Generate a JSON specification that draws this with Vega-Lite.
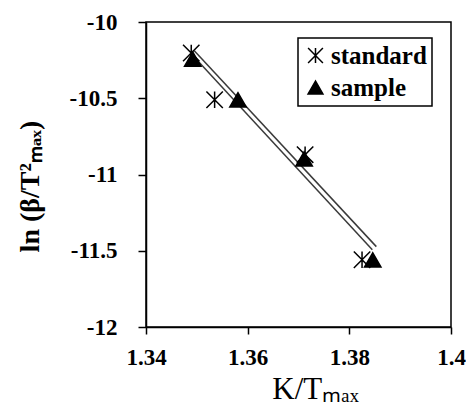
{
  "$schema": "https://vega.github.io/schema/vega-lite/v6.json",
  "width": 305,
  "height": 305,
  "autosize": {"type": "none"},
  "padding": {"left": 146, "top": 22, "right": 15, "bottom": 91},
  "background": "white",
  "config": {
    "view": {"stroke": "black", "strokeWidth": 1.5},
    "font": "Liberation Serif",
    "legend": {
      "strokeWidth": 1.5,
      "orient": "none",
      "legendX": 152,
      "legendY": 16,
      "strokeColor": "black",
      "fillColor": "white",
      "padding": 5,
      "labelFont": "Liberation Serif",
      "labelFontWeight": "bold",
      "labelFontSize": 25,
      "labelColor": "black",
      "labelOffset": 3,
      "rowPadding": 6,
      "symbolSize": 220,
      "symbolStrokeWidth": 1.5
    }
  },
  "datasets": {
    "points": [
      {"series": "standard", "x": 1.3489, "y": -10.203},
      {"series": "standard", "x": 1.3535, "y": -10.51},
      {"series": "standard", "x": 1.3713, "y": -10.87},
      {"series": "standard", "x": 1.3825, "y": -11.559},
      {"series": "sample", "x": 1.3492, "y": -10.243},
      {"series": "sample", "x": 1.3581, "y": -10.51},
      {"series": "sample", "x": 1.3711, "y": -10.898},
      {"series": "sample", "x": 1.3846, "y": -11.56}
    ],
    "fits": [
      {"fit": "sample", "x": 1.3495, "y": -10.188},
      {"fit": "sample", "x": 1.38531, "y": -11.473},
      {"fit": "standard", "x": 1.34872, "y": -10.201},
      {"fit": "standard", "x": 1.38452, "y": -11.493}
    ]
  },
  "encoding": {
    "x": {
      "field": "x",
      "type": "quantitative",
      "scale": {"domain": [1.34, 1.4], "nice": false, "zero": false},
      "axis": {
        "title": "K/Tₘₐₓ",
        "values": [1.34, 1.36, 1.38, 1.4],
        "labelExpr": "'' + datum.value",
        "grid": false,
        "domainColor": "black",
        "domainWidth": 1.5,
        "tickColor": "black",
        "tickWidth": 1.5,
        "tickSize": 7,
        "labelFont": "Liberation Serif",
        "labelFontWeight": "bold",
        "labelFontSize": 23,
        "labelColor": "black",
        "labelPadding": 12,
        "labelFlush": false,
        "labelOverlap": false,
        "titleFont": "Liberation Serif",
        "titleFontSize": 31,
        "titleFontWeight": "normal",
        "titleColor": "black",
        "titleX": 169,
        "titleY": 47
      }
    },
    "y": {
      "field": "y",
      "type": "quantitative",
      "scale": {"domain": [-12, -10], "nice": false, "zero": false},
      "axis": {
        "title": "ln (β/T²ₘₐₓ)",
        "values": [-12, -11.5, -11, -10.5, -10],
        "labelExpr": "'' + datum.value",
        "grid": false,
        "domainColor": "black",
        "domainWidth": 1.5,
        "tickColor": "black",
        "tickWidth": 1.5,
        "tickSize": 8,
        "labelFont": "Liberation Serif",
        "labelFontWeight": "bold",
        "labelFontSize": 23,
        "labelColor": "black",
        "labelPadding": 21,
        "labelFlush": false,
        "labelOverlap": false,
        "titleFont": "Liberation Serif",
        "titleFontSize": 28,
        "titleFontWeight": "bold",
        "titleColor": "black",
        "titleX": -116,
        "titleY": 164,
        "titleBaseline": "middle"
      }
    }
  },
  "layer": [
    {
      "data": {"name": "fits"},
      "mark": {"type": "line", "color": "#3a3a3a", "strokeWidth": 1.5},
      "encoding": {"detail": {"field": "fit", "type": "nominal"}}
    },
    {
      "data": {"name": "points"},
      "mark": {"type": "point", "filled": true, "strokeWidth": 1.5, "opacity": 1, "size": 270},
      "encoding": {
        "shape": {
          "field": "series",
          "type": "nominal",
          "scale": {
            "domain": ["standard", "sample"],
            "range": ["M-1,-1L1,1M-1,1L1,-1M0,-1L0,1", "triangle-up"]
          },
          "legend": {"title": null}
        },
        "fill": {
          "field": "series",
          "type": "nominal",
          "scale": {"domain": ["standard", "sample"], "range": ["black", "black"]},
          "legend": {"title": null}
        },
        "stroke": {
          "field": "series",
          "type": "nominal",
          "scale": {"domain": ["standard", "sample"], "range": ["black", "black"]},
          "legend": {"title": null}
        }
      }
    }
  ]
}
